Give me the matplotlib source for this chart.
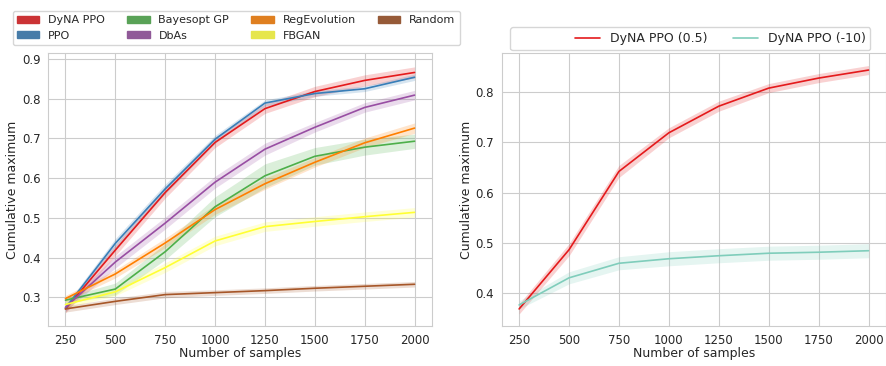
import colorsys

import matplotlib
matplotlib.use("Agg")
import matplotlib.pyplot as plt
import matplotlib.patches as mpatches
from matplotlib.lines import Line2D
import numpy as np
import seaborn as sns

# === Data ===
samples = [250, 500, 750, 1000, 1250, 1500, 1750, 2000]

methods = ["DyNA PPO", "PPO", "Bayesopt GP", "DbAs", "RegEvolution", "FBGAN", "Random"]
colors = ["#e41a1c", "#377eb8", "#4daf4a", "#984ea3", "#ff7f00", "#ffff33", "#a65628"]

dyna_ppo = [0.271, 0.419, 0.564, 0.690, 0.775, 0.818, 0.846, 0.866]
ppo = [0.273, 0.436, 0.573, 0.698, 0.789, 0.813, 0.825, 0.854]
bayesopt_gp = [0.293, 0.321, 0.415, 0.528, 0.606, 0.655, 0.678, 0.693]
dbas = [0.275, 0.389, 0.487, 0.590, 0.673, 0.728, 0.778, 0.809]
reg_evolution = [0.297, 0.359, 0.437, 0.521, 0.586, 0.640, 0.689, 0.726]
fbgan = [0.282, 0.314, 0.375, 0.442, 0.478, 0.491, 0.503, 0.514]
random_search = [0.271, 0.290, 0.307, 0.312, 0.317, 0.323, 0.328, 0.333]

# half-widths of the shaded bands
dyna_ppo_err = [0.010, 0.014, 0.014, 0.013, 0.012, 0.013, 0.014, 0.014]
ppo_err = [0.008, 0.012, 0.012, 0.010, 0.008, 0.007, 0.007, 0.008]
bayesopt_gp_err = [0.008, 0.015, 0.020, 0.025, 0.030, 0.022, 0.020, 0.018]
dbas_err = [0.010, 0.015, 0.015, 0.015, 0.015, 0.012, 0.012, 0.012]
reg_evolution_err = [0.008, 0.010, 0.012, 0.012, 0.014, 0.012, 0.012, 0.013]
fbgan_err = [0.008, 0.010, 0.012, 0.012, 0.012, 0.012, 0.012, 0.012]
random_err = [0.008, 0.008, 0.008, 0.007, 0.007, 0.007, 0.007, 0.007]

left_means = [dyna_ppo, ppo, bayesopt_gp, dbas, reg_evolution, fbgan, random_search]
left_errs = [dyna_ppo_err, ppo_err, bayesopt_gp_err, dbas_err, reg_evolution_err,
             fbgan_err, random_err]

right_labels = ["DyNA PPO (0.5)", "DyNA PPO (-10)"]
right_colors = ["#e41a1c", "#7fcdbb"]
dyna_05 = [0.368, 0.486, 0.642, 0.719, 0.772, 0.808, 0.828, 0.844]
dyna_m10 = [0.376, 0.430, 0.459, 0.468, 0.474, 0.479, 0.481, 0.484]
dyna_05_err = [0.010, 0.012, 0.012, 0.010, 0.010, 0.009, 0.009, 0.009]
dyna_m10_err = [0.008, 0.012, 0.013, 0.014, 0.014, 0.014, 0.014, 0.014]
right_means = [dyna_05, dyna_m10]
right_errs = [dyna_05_err, dyna_m10_err]


def desaturate(c, prop=0.75):
    r, g, b = matplotlib.colors.to_rgb(c)
    h, l, s = colorsys.rgb_to_hls(r, g, b)
    return colorsys.hls_to_rgb(h, l, s * prop)


sns.set_style("whitegrid")
plt.rcParams["font.family"] = ["DejaVu Sans"]
plt.rcParams["font.size"] = 9

fig = plt.figure(figsize=(8.86, 3.66), dpi=100)
ax1 = fig.add_axes([0.0542, 0.1093, 0.4334, 0.7459])
ax2 = fig.add_axes([0.5662, 0.1093, 0.4338, 0.7459])

x = np.array(samples)

# === Left panel ===
for mean, err, c in zip(left_means, left_errs, colors):
    mean = np.array(mean)
    err = np.array(err)
    ax1.fill_between(x, mean - err, mean + err, color=c, alpha=0.2, lw=0)
    ax1.plot(x, mean, color=c, lw=1.2)

ax1.set_ylim(0.228, 0.915)
ax1.set_yticks([0.3, 0.4, 0.5, 0.6, 0.7, 0.8, 0.9])
ax1.set_xticks(samples)
ax1.set_xlabel("Number of samples", fontsize=9, labelpad=0)
ax1.set_ylabel("Cumulative maximum", fontsize=9, labelpad=2)

handles = [mpatches.Patch(color=desaturate(c), label=m) for m, c in zip(methods, colors)]
fig.legend(handles=handles, ncol=4, loc="upper left",
           bbox_to_anchor=(12.7 / 886, 1 - 10.7 / 366), borderaxespad=0,
           fontsize=8, handleheight=0.55)

# === Right panel ===
for mean, err, c in zip(right_means, right_errs, right_colors):
    mean = np.array(mean)
    err = np.array(err)
    ax2.fill_between(x, mean - err, mean + err, color=c, alpha=0.2, lw=0)
    ax2.plot(x, mean, color=c, lw=1.2)

ax2.set_ylim(0.334, 0.878)
ax2.set_yticks([0.4, 0.5, 0.6, 0.7, 0.8])
ax2.set_xticks(samples)
ax2.set_xlabel("Number of samples", fontsize=9, labelpad=0)
ax2.set_ylabel("Cumulative maximum", fontsize=9, labelpad=2)

line_handles = [Line2D([], [], color="none")] + [
    Line2D([], [], color=c, lw=1.2) for c in right_colors]
fig.legend(handles=line_handles, labels=[""] + right_labels, ncol=3,
           loc="upper left", bbox_to_anchor=(510 / 886, 1 - 27 / 366),
           borderaxespad=0, fontsize=9)

for ax in (ax1, ax2):
    ax.tick_params(labelsize=8.5, pad=2)
    for s in ax.spines.values():
        s.set_color("0.8")

fig.savefig("out.png", dpi=100)
